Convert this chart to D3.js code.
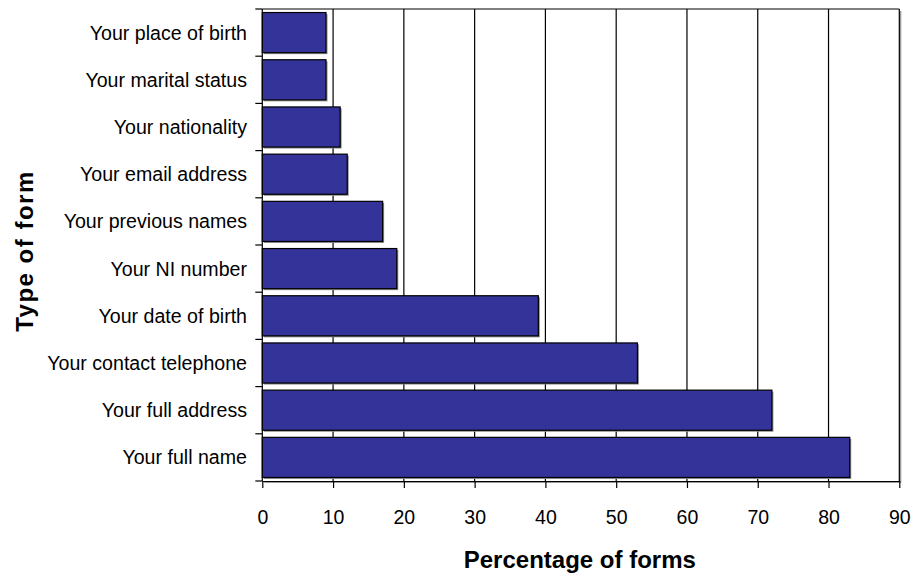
<!DOCTYPE html>
<html>
<head>
<meta charset="utf-8">
<script src="https://cdn.jsdelivr.net/npm/d3@7"></script>
<style>
  html, body { margin: 0; padding: 0; background: #fff; }
  svg { display: block; font-family: "Liberation Sans", Arial, sans-serif; }
</style>
</head>
<body>
<svg id="chart" width="911" height="576"></svg>
<script>
const categories = [
  "Your place of birth",
  "Your marital status",
  "Your nationality",
  "Your email address",
  "Your previous names",
  "Your NI number",
  "Your date of birth",
  "Your contact telephone",
  "Your full address",
  "Your full name"
];
const values = [9, 9, 11, 12, 17, 19, 39, 53, 72, 83];
const xTicks = [0, 10, 20, 30, 40, 50, 60, 70, 80, 90];
const xTitle = "Percentage of forms";
const yTitle = "Type of form";

const svg = d3.select("#chart");
const pLeft = 262.3, pRight = 899.3, pTop = 9, pBottom = 481;

const x = d3.scaleLinear().domain([0, 90]).range([pLeft, pRight]);
const y = d3.scaleBand().domain(categories).range([pTop, pBottom]).paddingInner(0.15).paddingOuter(0.075);
const yb = d3.scaleBand().domain(categories).range([pTop, pBottom]);

// plot area shadow + frame
svg.append("rect").attr("x", pLeft + 2).attr("y", pTop + 2)
  .attr("width", pRight - pLeft).attr("height", pBottom - pTop)
  .attr("fill", "#9a9a9a");
svg.append("rect").attr("x", pLeft).attr("y", pTop)
  .attr("width", pRight - pLeft).attr("height", pBottom - pTop)
  .attr("fill", "#fff");

// gridlines
svg.append("g").selectAll("line").data(xTicks.filter(d => d > 0)).join("line")
  .attr("x1", d => x(d)).attr("x2", d => x(d))
  .attr("y1", pTop).attr("y2", pBottom)
  .attr("stroke", "#000").attr("stroke-width", 1.2);
// top border
svg.append("line").attr("x1", pLeft).attr("x2", pRight).attr("y1", pTop).attr("y2", pTop)
  .attr("stroke", "#000").attr("stroke-width", 1.2);

// bars: shadows then bars
const bars = svg.append("g");
bars.selectAll("rect.sh").data(values).join("rect").attr("class", "sh")
  .attr("x", x(0) + 1.5).attr("y", (d, i) => y(categories[i]) + 1.5)
  .attr("width", d => x(d) - x(0)).attr("height", y.bandwidth())
  .attr("fill", "#8c8c8c");
bars.selectAll("rect.bar").data(values).join("rect").attr("class", "bar")
  .attr("x", x(0)).attr("y", (d, i) => y(categories[i]))
  .attr("width", d => x(d) - x(0)).attr("height", y.bandwidth())
  .attr("fill", "#333399").attr("stroke", "#000").attr("stroke-width", 1.2);

// x axis
const xAxis = svg.append("g").attr("transform", `translate(0,${pBottom})`)
  .call(d3.axisBottom(x).tickValues(xTicks).tickSize(7).tickPadding(20).tickSizeOuter(0));
xAxis.select(".domain").attr("stroke", "#000").attr("stroke-width", 1.2);
xAxis.selectAll(".tick line").attr("stroke", "#000").attr("stroke-width", 1.2);
xAxis.selectAll(".tick text").attr("font-size", 19.5).attr("fill", "#000")
  .attr("font-family", "Liberation Sans, Arial, sans-serif").attr("dy", 0).attr("y", 42.5);

// y axis (band boundary ticks)
const yAxisG = svg.append("g");
yAxisG.append("line").attr("x1", pLeft).attr("x2", pLeft).attr("y1", pTop).attr("y2", pBottom)
  .attr("stroke", "#000").attr("stroke-width", 1.2);
const bounds = categories.map(c => yb(c)).concat([pBottom]);
yAxisG.selectAll("line.t").data(bounds).join("line").attr("class", "t")
  .attr("x1", pLeft - 7).attr("x2", pLeft).attr("y1", d => d).attr("y2", d => d)
  .attr("stroke", "#000").attr("stroke-width", 1.2);
yAxisG.selectAll("text").data(categories).join("text")
  .attr("x", 247).attr("y", d => yb(d) + yb.bandwidth() / 2 + 7)
  .attr("text-anchor", "end").attr("font-size", 19.6).attr("fill", "#000")
  .text(d => d);

// titles
svg.append("text").attr("x", (pLeft + pRight) / 2 - 1).attr("y", 568)
  .attr("text-anchor", "middle").attr("font-size", 24).attr("font-weight", "bold")
  .text(xTitle);
svg.append("text").attr("transform", "translate(33,251) rotate(-90)")
  .attr("text-anchor", "middle").attr("font-size", 24).attr("font-weight", "bold")
  .attr("letter-spacing", 1.5)
  .text(yTitle);
</script>
</body>
</html>
